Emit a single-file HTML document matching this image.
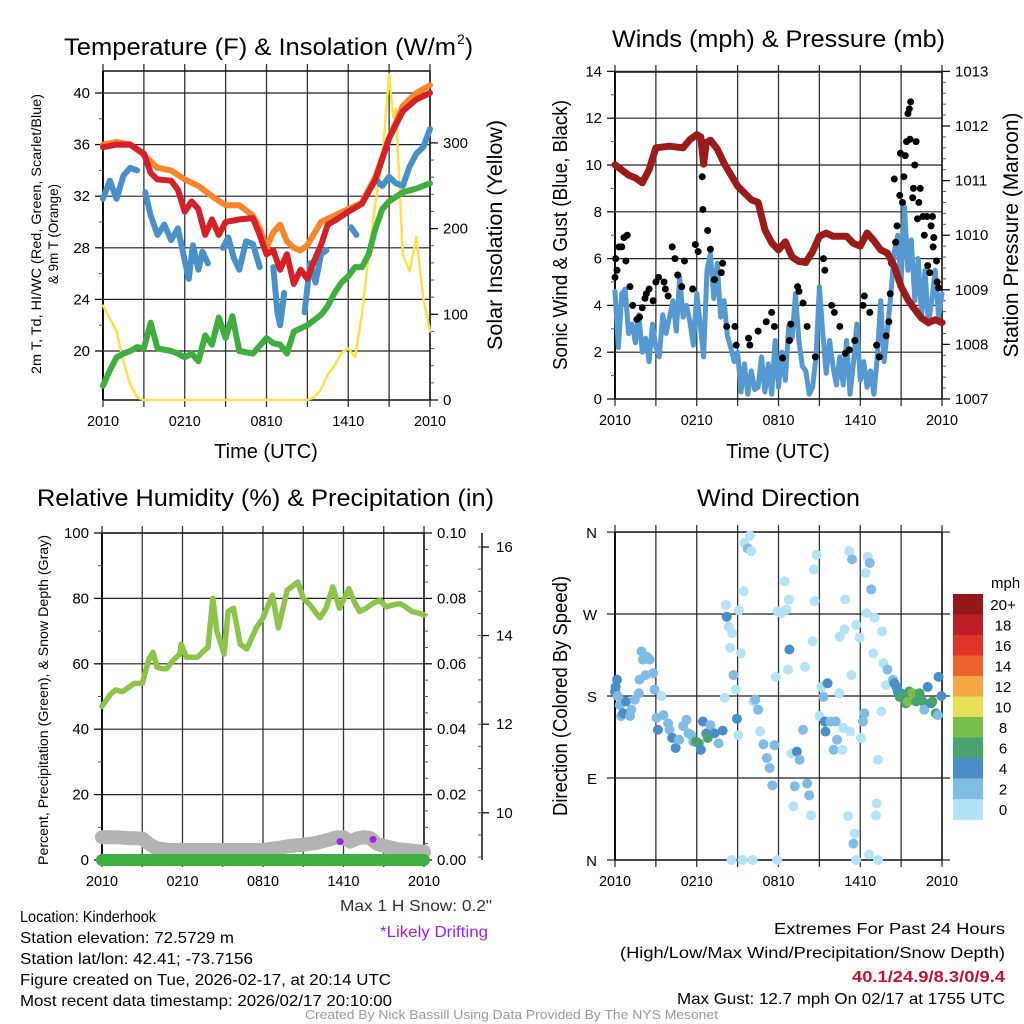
<!DOCTYPE html>
<html><head><meta charset="utf-8"><style>
html,body{margin:0;padding:0;background:#fff}
svg{display:block;font-family:"Liberation Sans",sans-serif}
</style></head><body>
<svg id="c" xmlns="http://www.w3.org/2000/svg" width="1024" height="1024" viewBox="0 0 1024 1024">
<rect width="1024" height="1024" fill="#fff"/>
<g id="g1"></g>
<g id="g2"></g>
<g id="g3"></g>
<g id="g4"></g>
<g id="txt">
<text x="64" y="55" font-size="24" textLength="392" lengthAdjust="spacingAndGlyphs">Temperature (F) &amp; Insolation (W/m</text>
<text x="457" y="44" font-size="14">2</text>
<text x="465" y="55" font-size="24">)</text>
<text x="612" y="47" font-size="24" textLength="333" lengthAdjust="spacingAndGlyphs">Winds (mph) &amp; Pressure (mb)</text>
<text x="37" y="506" font-size="24" textLength="457" lengthAdjust="spacingAndGlyphs">Relative Humidity (%) &amp; Precipitation (in)</text>
<text x="697" y="506" font-size="24" textLength="163" lengthAdjust="spacingAndGlyphs">Wind Direction</text>
<text x="20" y="922" font-size="16" textLength="136" lengthAdjust="spacingAndGlyphs">Location: Kinderhook</text>
<text x="20" y="943" font-size="16" textLength="214" lengthAdjust="spacingAndGlyphs">Station elevation: 72.5729 m</text>
<text x="20" y="964" font-size="16" textLength="233" lengthAdjust="spacingAndGlyphs">Station lat/lon: 42.41; -73.7156</text>
<text x="20" y="985" font-size="16" textLength="371" lengthAdjust="spacingAndGlyphs">Figure created on Tue, 2026-02-17, at 20:14 UTC</text>
<text x="20" y="1006" font-size="16" textLength="372" lengthAdjust="spacingAndGlyphs">Most recent data timestamp: 2026/02/17 20:10:00</text>
<text x="340" y="911" font-size="16" fill="#333" textLength="152" lengthAdjust="spacingAndGlyphs">Max 1 H Snow: 0.2"</text>
<text x="380" y="937" font-size="16" fill="#a020f0" textLength="108" lengthAdjust="spacingAndGlyphs">*Likely Drifting</text>
<text x="774" y="934" font-size="16" textLength="231" lengthAdjust="spacingAndGlyphs">Extremes For Past 24 Hours</text>
<text x="620" y="958" font-size="16" textLength="385" lengthAdjust="spacingAndGlyphs">(High/Low/Max Wind/Precipitation/Snow Depth)</text>
<text x="852" y="982" font-size="16" font-weight="bold" fill="#c8102e" textLength="153" lengthAdjust="spacingAndGlyphs">40.1/24.9/8.3/0/9.4</text>
<text x="677" y="1004" font-size="16" textLength="328" lengthAdjust="spacingAndGlyphs">Max Gust: 12.7 mph On 02/17 at 1755 UTC</text>
<text x="305" y="1019" font-size="13" fill="#999" textLength="413" lengthAdjust="spacingAndGlyphs">Created By Nick Bassill Using Data Provided By The NYS Mesonet</text>
</g>
</svg>
<script>
// ---------- Panel 1 data ----------
const redT=[0,1,2,3,3.5,4,5,5.5,6,6.5,7,7.5,8,8.5,9,10,11,11.5,12,12.5,13,13.5,14,14.5,15,15.5,16,16.5,17,18,19,20,21,22,23,24];
const redV=[35.8,36,36,35.3,33.8,33.3,33.2,32.5,30.8,31.6,31,29,30.2,29,30,30.2,30.3,29,27.5,27.8,26.3,27.5,25.2,26.3,25.6,27,28.2,29.8,30.1,30.8,31.4,33.3,36.5,38.6,39.5,40];
const orgT=[0,1,2,3,4,5,6,7,8,9,10,11,11.5,12,12.5,13,13.5,14,14.5,15,16,17,18,19,20,21,22,23,24];
const orgV=[36,36.2,36,35.2,34.2,34,33.3,32.8,32,31.3,31.3,30.5,29.5,28,29.2,29.8,28.5,28,27.8,28.2,30,30.5,31,31.5,33.5,36.5,39,40,40.6];
const blueT=[0,0.5,1,1.5,2,2.5,null,3.1,3.5,4,4.5,5,5.5,6,6.3,6.6,7,7.3,7.7,null,8.8,9.2,9.6,10,10.5,11,11.5,null,12.5,12.8,13,13.3,null,14.8,15.2,15.6,16,16.4,null,18.2,18.6,null,20,20.5,21,21.5,22,22.5,23,23.5,24];
const blueV=[31.8,33.2,31.8,33.6,34.2,34,null,32.3,30.5,29,29.8,28.6,29.5,27,25.6,28.2,26.3,27.7,26.8,null,28,28.8,27.2,26.3,28.5,28.3,26.5,null,26.5,23,22,24.5,null,23,26.8,25.3,27.5,27.8,null,29.6,29,null,33.3,32.8,33.5,33,32.8,34.3,35.3,35.8,37.2];
const grnT=[0,0.5,1,1.5,2,2.5,3,3.5,3.8,4,5,5.5,6,6.5,7,7.5,8,8.5,9,9.5,10,11,12,12.5,13,13.5,14,15,16,16.5,17,17.5,18,18.5,19,19.5,20,20.5,21,22,23,24];
const grnV=[17.3,18.5,19.5,19.8,20,20.3,20.2,22.2,21,20.2,20,19.8,19.5,19.8,19.2,21.2,20.5,22.6,21,22.7,20,19.8,21,20.6,20.5,19.8,21.5,22,22.8,23.5,24.5,25.3,25.8,26.5,26.5,27.5,29.5,31,31.6,32.3,32.6,33];
const solT=[0,0.5,1,1.5,2,2.5,3,15,15.5,16,16.5,17,17.5,18,18.5,19,19.5,20,20.5,21,21.3,21.5,22,22.5,23,23.5,24];
const solV=[110,95,80,45,18,3,0,0,3,12,30,40,55,60,50,100,170,230,280,380,330,340,170,150,190,120,80];
// ---------- Panel 2 data ----------
const presT=[0,1,1.5,2,2.5,3,4,5,5.5,6,6.3,6.5,6.7,7,7.5,8,9,10,10.5,11,11.5,12,12.5,13,13.5,14,14.5,15,15.5,16,17,17.5,18,18.5,19,19.5,20,20.5,21,21.5,22,22.5,23,23.5,24];
const presV=[1011.29,1011.1,1011.05,1010.96,1011.2,1011.6,1011.63,1011.6,1011.75,1011.84,1011.8,1011.3,1011.7,1011.74,1011.58,1011.32,1010.9,1010.65,1010.6,1010.1,1009.86,1009.73,1009.88,1009.6,1009.52,1009.5,1009.7,1009.98,1010.04,1009.98,1009.98,1009.85,1009.8,1010.04,1009.9,1009.73,1009.67,1009.43,1009.06,1008.82,1008.64,1008.48,1008.4,1008.45,1008.4];
const windT=[0,0.25,0.5,0.75,1,1.25,1.5,1.75,2,2.25,2.5,2.75,3,3.25,3.5,3.75,4,4.25,4.5,4.75,5,5.25,5.5,5.75,6,6.25,6.5,6.75,7,7.25,7.5,7.75,8,8.25,8.5,8.75,9,9.25,9.5,9.75,10,10.25,10.5,10.75,11,11.25,11.5,11.75,12,12.25,12.5,12.75,13,13.25,13.5,13.75,14,14.25,14.5,14.75,15,15.25,15.5,15.75,16,16.25,16.5,16.75,17,17.25,17.5,17.75,18,18.25,18.5,18.75,19,19.25,19.5,19.75,20,20.25,20.5,20.75,21,21.25,21.5,21.75,22,22.25,22.5,22.75,23,23.25,23.5,23.75,24];
const windV=[4.6,2.2,4.5,4.7,2.8,3.2,2.4,3.6,2,2.6,1.6,3.2,2.2,1.8,3.6,2.8,3.5,4.2,2.9,5.2,3.5,4,3.3,2.3,4.5,3.2,1.8,5.5,6.2,4.3,5.8,3.5,4.2,2.7,2.2,1.6,2,0.3,1.5,0.2,1.2,0.4,0.5,1.8,0.3,1.5,0.2,2.5,0.5,2,0.8,3.1,2.6,4.5,2.5,1.4,1.2,0.2,0.5,1.8,4.8,2.8,1.1,2.5,1.4,0.6,1.8,0.6,2.5,0.2,1.5,3.2,0.8,1.6,0.5,1.2,0.2,1.8,4.2,1.6,3,4.5,6.3,7,5,8.2,5.5,6.8,4.2,6,3.5,5.5,3.2,4.2,5.5,3.5,4.5,2.5,2];
const gustT=[0,0.05,0.15,0.3,0.5,0.66,0.8,0.9,1.1,1.3,1.6,1.8,2,2.2,2.3,2.5,2.8,3,3.2,3.6,3.7,3.9,4.2,4.4,4.6,4.9,5.1,5.7,5.9,6.1,6.4,6.45,6.8,7,7.3,7.8,7.9,8.2,8.8,8.9,9.8,9.9,10.5,11.1,11.5,11.7,12.3,12.8,12.9,13.4,13.5,13.8,14.1,14.7,15.3,15.4,15.9,16.1,16.5,16.9,17.2,17.6,18.2,18.3,18.7,19.2,19.4,19.9,20.1,20.2,20.3,20.5,20.6,20.7,20.9,20.95,21.1,21.2,21.3,21.4,21.5,21.6,21.7,21.65,22,22.1,21.9,21.85,22.3,22.4,22.2,22.6,22.9,22.7,22.95,23.1,23.3,23.2,23.4,23.35,23.6,23.65,23.75];
const gustV=[5.2,6,5.5,6.5,6.5,6.9,5.9,7,4.8,4,3.4,3.5,3.9,4.3,4.5,4.7,4.2,5,5.2,5,4.7,4.4,6.5,6,5.3,4.8,5.9,4.7,6.6,6.3,9.5,8.1,7.2,6.4,5.1,5.4,5.8,3.1,3.1,2.3,2.6,2.3,2.9,3.3,3.7,3.1,1.75,2.5,3.2,4.8,4.6,4.1,3.1,1.8,6,5.5,4,3.7,3.1,1.95,2.1,2.5,4,4.4,3.7,2.3,1.8,2.7,3.3,4.5,5.8,9.4,6.7,7.4,8.7,10.5,8.4,9.5,10.4,11,12.2,12.4,12.7,11.1,10,11,9,8.6,8.4,9,7.7,7.8,7.8,7,5.7,5.4,7.8,7.4,6.9,6.5,5.9,5,4.75];
// ---------- Panel 3 data ----------
const rhT=[0,0.6,1,1.5,1.9,2.4,3,3.2,3.5,3.8,4.1,4.5,4.8,5.3,5.8,5.9,6.3,7.1,7.6,7.9,8.26,8.56,9.1,9.4,9.8,10.3,10.8,11.5,12,12.7,13.15,13.8,14.6,15,15.5,16.25,16.7,17.2,17.7,18.4,18.8,19.2,19.7,20.2,20.7,21.2,21.7,22.2,22.6,23.1,23.6,24];
const rhV=[47,50.5,52,51.5,52.5,54,54,57,61.5,63.5,59,58.5,58.5,61,63,66,62,62,64,65,80,70,63,76,77,66,64.6,71,74,81,71,82.5,85,80,78,74,77,83.5,77,83,79,76,77,78.5,79.4,77.4,78,78.4,77.5,76,75.5,75];
const snowT=[0,1,2,3,3.5,4,5,6,8,10,12,13,14,15,16,17,17.5,18,18.5,19,19.5,20,20.5,21,22,23,24];
const snowV=[9.45,9.45,9.43,9.42,9.3,9.2,9.16,9.16,9.16,9.16,9.16,9.2,9.25,9.28,9.32,9.4,9.45,9.45,9.35,9.42,9.45,9.43,9.3,9.25,9.18,9.15,9.12];
const precipT=[0,24];
const precipV=[0,0];
const driftT=[17.75,20.2];
const driftV=[9.35,9.4];
// ---------- Panel 4 data ----------
const dirT=[0,0.05,0.15,0.2,0.35,0.45,0.6,0.8,1.1,1.2,1.45,1.75,1.8,1.95,2.05,2.25,2.35,2.55,2.8,2.9,3.05,3.15,3.4,3.55,3.9,4,4.2,4.45,4.7,5,5.25,5.4,5.6,5.75,5.95,6.15,6.3,6.45,6.7,6.8,7,7.3,7.6,7.9,8.05,8.15,8.2,8.35,8.45,8.6,8.7,8.85,8.95,9.05,9.1,9.25,9.45,9.5,9.75,9.9,10,10.15,10.3,10.5,10.65,10.9,11.15,11.35,11.55,11.7,11.8,11.95,12.2,12.45,12.6,12.75,12.8,12.7,12.95,13.1,13.2,13.35,13.55,13.8,13.95,14.1,14.25,14.4,14.5,14.6,14.65,14.8,15,15.15,15.3,15.4,15.45,15.6,15.8,16.05,16.2,16.3,16.45,16.5,16.7,16.75,16.85,16.9,17.1,17.2,17.25,17.35,17.4,17.5,17.6,17.7,17.95,18.05,18.2,18.3,18.4,18.45,18.55,18.7,18.8,18.95,19.05,19.15,19.2,19.3,19.55,19.6,19.7,19.9,20,20.4,20.5,20.65,20.75,20.9,21,21.1,21.35,21.5,21.6,21.85,22.1,22.35,22.6,22.7,22.95,23.2,23.3,23.55,23.7,23.75,23.95,8.55,9.35,10.1,11.9,17.7,19.3,18.65];
const dirV=[185,190,198,180,170,158,161,174,158,165,176,183,198,229,220,203,223,220,205,187,156,143,180,159,150,143,134,123,132,147,154,139,137,130,130,128,121,152,139,134,148,139,128,142,178,280,267,256,233,249,203,187,155,137,274,227,295,348,342,356,339,174,176,165,141,127,112,101,82,126,201,273,271,306,275,286,231,209,117,59,81,119,110,143,212,84,71,49,240,319,284,335,158,190,179,152,141,194,152,121,152,132,183,245,121,145,253,286,48,339,141,203,330,18,29,258,244,134,152,161,315,271,333,326,297,227,266,49,62,110,163,251,216,192,209,198,194,190,185,179,183,179,172,174,185,183,174,183,174,165,190,172,174,161,159,201,180,0,0,0,0,0,0,6];
const dirSpd=[5,5,5,3,3,3,5,5,3,3,3,3,3,3,3,3,3,3,3,3,3,5,1,3,3,3,5,5,3,3,3,3,3,3,7,7,5,5,5,7,3,5,3,5,1,1,5,1,1,1,3,1,5,1,1,1,1,1,3,1,1,1,3,3,1,3,3,3,3,3,1,1,1,1,1,1,5,1,1,1,3,5,3,3,1,3,3,1,1,1,1,1,1,1,3,5,5,5,3,3,3,3,1,1,1,1,1,1,1,1,1,1,3,3,1,1,1,1,3,3,1,1,1,3,3,1,1,1,1,1,1,1,1,1,3,3,5,5,5,7,5,7,7,9,7,9,7,7,7,3,5,5,7,7,3,5,5,1,1,1,1,1,1,1,3];
const speedColors=['#b4e2f6','#80bbe3','#4a8ec6','#48a46c','#7bbf4b','#e6df58','#f4a845','#ee622e','#dd3429','#bd1f26','#93171b'];
const speedLabels=['0','2','4','6','8','10','12','14','16','18','20+'];
const xTickLabels=['2010','0210','0810','1410','2010'];
const xTickHours=[0,6,12,18,24];

const NS='http://www.w3.org/2000/svg';
function mk(parent,tag,attrs){const e=document.createElementNS(NS,tag);for(const k in attrs)e.setAttribute(k,attrs[k]);parent.appendChild(e);return e;}
function txt(parent,x,y,s,attrs){const e=mk(parent,'text',Object.assign({x:x,y:y},attrs||{}));e.textContent=s;return e;}

function frame(g,P){
  for(let h=0;h<=24;h+=3){const x=P.x0+h/24*(P.x1-P.x0);
    const l=mk(g,'line',{x1:x,x2:x,y1:P.y0-7,y2:P.y1+7,stroke:'#333','stroke-width':1.3});
    
    }
  xTickHours.forEach((h,i)=>{const x=P.x0+h/24*(P.x1-P.x0);
    const t=txt(g,x,P.y1+26,xTickLabels[i],{'font-size':15,'text-anchor':'middle',textLength:32,lengthAdjust:'spacingAndGlyphs'});
    
    });
  mk(g,'line',{x1:P.x0,x2:P.x1,y1:P.y0,y2:P.y0,stroke:'#111','stroke-width':1.5});
  mk(g,'line',{x1:P.x0,x2:P.x1,y1:P.y1,y2:P.y1,stroke:'#111','stroke-width':1.5});
  mk(g,'line',{x1:P.x0,x2:P.x0,y1:P.y0,y2:P.y1,stroke:'#111','stroke-width':2});
  mk(g,'line',{x1:P.x1,x2:P.x1,y1:P.y0,y2:P.y1,stroke:'#111','stroke-width':1.5});
}
function yAxis(g,P,x,side,min,max,step,minor,ys,fmt,grid){
  for(let v=min;v<=max+1e-9;v+=minor){const y=ys(v);
    mk(g,'line',{x1:x,x2:x+side*4,y1:y,y2:y,stroke:'#555','stroke-width':1});}
  for(let v=min;v<=max+1e-9;v+=step){const y=ys(v);
    mk(g,'line',{x1:x,x2:x+side*8,y1:y,y2:y,stroke:'#111','stroke-width':1.3});
    if(grid)mk(g,'line',{x1:P.x0,x2:P.x1,y1:y,y2:y,stroke:'#222','stroke-width':1.2});
    const t=txt(g,x+side*13,y+5,fmt(v),{'font-size':15,'text-anchor':side<0?'end':'start'});
    
    }
}
function line(g,T,V,xs,ys,color,w,name){
  let d='',pen=false;
  for(let i=0;i<T.length;i++){if(T[i]===null||V[i]===null){pen=false;continue;}
    d+=(pen?'L':'M')+xs(T[i]).toFixed(1)+' '+ys(V[i]).toFixed(1);pen=true;}
  const p=mk(g,'path',{d:d,fill:'none',stroke:color,'stroke-width':w,'stroke-linejoin':'round','stroke-linecap':'round'});
  
  
  return p;
}
function rotText(g,x,y,s,size,len,name){
  const t=txt(g,0,0,s,{'font-size':size,'text-anchor':'middle',transform:`translate(${x},${y}) rotate(-90)`,textLength:len,lengthAdjust:'spacingAndGlyphs'});
  
  
  return t;
}

// Panel 1
(function(){
  const g=document.getElementById('g1');const P={x0:103,x1:430,y0:71,y1:400};
  const xs=t=>P.x0+t/24*(P.x1-P.x0);const ys=v=>351-(v-20)*12.9;const ss=v=>400-v*0.857;
  frame(g,P);
  yAxis(g,P,P.x0,-1,20,40,4,2,ys,v=>String(v),true);
  yAxis(g,P,P.x1,1,0,300,100,20,ss,v=>String(v),false);
  line(g,solT,solV,xs,ss,'#fbe14b',2.5,'solar-line');
  line(g,grnT,grnV,xs,ys,'#3fae3f',6,'dewpoint-line');
  line(g,blueT,blueV,xs,ys,'#4a90c8',6,'windchill-line');
  line(g,orgT,orgV,xs,ys,'#f7852a',6,'temp-9m-line');
  line(g,redT,redV,xs,ys,'#d42027',6,'temp-2m-line');
  rotText(g,41,234,'2m T, Td, HI/WC (Red, Green, Scarlet/Blue)',14,280,'temp-y-title');
  rotText(g,58,234,'& 9m T (Orange)',14,100,'temp-y-title-2');
  rotText(g,502,235,'Solar Insolation (Yellow)',21,230,'solar-y-title');
  const t=txt(g,266,458,'Time (UTC)',{'font-size':20,'text-anchor':'middle'});
  
})();
// Panel 2
(function(){
  const g=document.getElementById('g2');const P={x0:615,x1:942,y0:72,y1:399};
  const xs=t=>P.x0+t/24*(P.x1-P.x0);const ys=v=>399-v*23.4;const ps=v=>399-(v-1007)*54.6;
  frame(g,P);
  yAxis(g,P,P.x0,-1,0,14,2,1,ys,v=>String(v),true);
  yAxis(g,P,P.x1,1,1007,1013,1,0.2,ps,v=>String(Math.round(v)),false);
  line(g,windT,windV,xs,ys,'#5599d0',5,'wind-speed-line');
  for(let i=0;i<gustT.length;i++){const c=mk(g,'circle',{cx:xs(gustT[i]),cy:ys(gustV[i]),r:3.5,fill:'#000'});
    
    }
  line(g,presT,presV,xs,ps,'#9b1b1b',7,'pressure-line');
  rotText(g,567,235,'Sonic Wind & Gust (Blue, Black)',20,270,'wind-y-title');
  rotText(g,1018,235,'Station Pressure (Maroon)',21,245,'pressure-y-title');
  const t=txt(g,778,458,'Time (UTC)',{'font-size':20,'text-anchor':'middle'});
  
})();
// Panel 3
(function(){
  const g=document.getElementById('g3');const P={x0:102,x1:424,y0:533,y1:860};
  const xs=t=>P.x0+t/24*(P.x1-P.x0);const ys=v=>860-v*3.27;const pr=v=>860-v*3270;const sn=v=>547+(16-v)*44.3;
  frame(g,P);
  yAxis(g,P,P.x0,-1,0,100,20,10,ys,v=>String(v),true);
  yAxis(g,P,P.x1,1,0,0.1,0.02,0.005,pr,v=>v.toFixed(2),false);
  mk(g,'line',{x1:482,x2:482,y1:533,y2:860,stroke:'#111','stroke-width':1.5});
  for(let v=9;v<=16.3;v+=0.5){mk(g,'line',{x1:482,x2:478,y1:sn(v),y2:sn(v),stroke:'#555'});}
  for(let v=10;v<=16;v+=2){mk(g,'line',{x1:482,x2:489,y1:sn(v),y2:sn(v),stroke:'#111','stroke-width':1.3});
    const t=txt(g,496,sn(v)+5,String(v),{'font-size':15});
    }
  line(g,snowT,snowV,xs,sn,'#b3b3b3',14,'snow-depth-line');
  for(let i=0;i<driftT.length;i++){const c=mk(g,'circle',{cx:xs(driftT[i]),cy:sn(driftV[i]),r:3.5,fill:'#a020f0'});
    
    }
  line(g,precipT,precipV,xs,pr,'#3cb043',12,'precip-line');
  line(g,rhT,rhV,xs,ys,'#8cc44a',5.5,'rh-line');
  rotText(g,48,700,'Percent, Precipitation (Green), & Snow Depth (Gray)',14,330,'rh-y-title');
})();
// Panel 4
(function(){
  const g=document.getElementById('g4');const P={x0:615,x1:942,y0:532,y1:860};
  const xs=t=>P.x0+t/24*(P.x1-P.x0);const ys=v=>860-v*0.911;
  frame(g,P);
  const labs=['N','E','S','W','N'];
  labs.forEach((s,i)=>{const y=ys(i*90);
    mk(g,'line',{x1:P.x0-8,x2:P.x1+8,y1:y,y2:y,stroke:'#222','stroke-width':1.2});
    const t=txt(g,597,y+6,s,{'font-size':15,'text-anchor':'end'});
    });
  for(let i=0;i<dirT.length;i++){const ci=Math.min(10,Math.floor(dirSpd[i]/2));
    const c=mk(g,'circle',{cx:xs(dirT[i]),cy:ys(dirV[i]),r:5,fill:speedColors[ci]});
    
    }
  rotText(g,567,696,'Direction (Colored By Speed)',20,240,'direction-y-title');
  const lg=mk(g,'g',{});
  
  
  const t0=txt(lg,991,588,'mph',{'font-size':15});
  
  for(let i=0;i<11;i++){const k=10-i;const y=594+i*20.5;
    const r=mk(lg,'rect',{x:953,y:y,width:30,height:21,fill:speedColors[k]});
    
    
    const t=txt(lg,1003,y+16,speedLabels[k],{'font-size':15,'text-anchor':'middle'});
    
    }
})();
</script>
</body></html>
